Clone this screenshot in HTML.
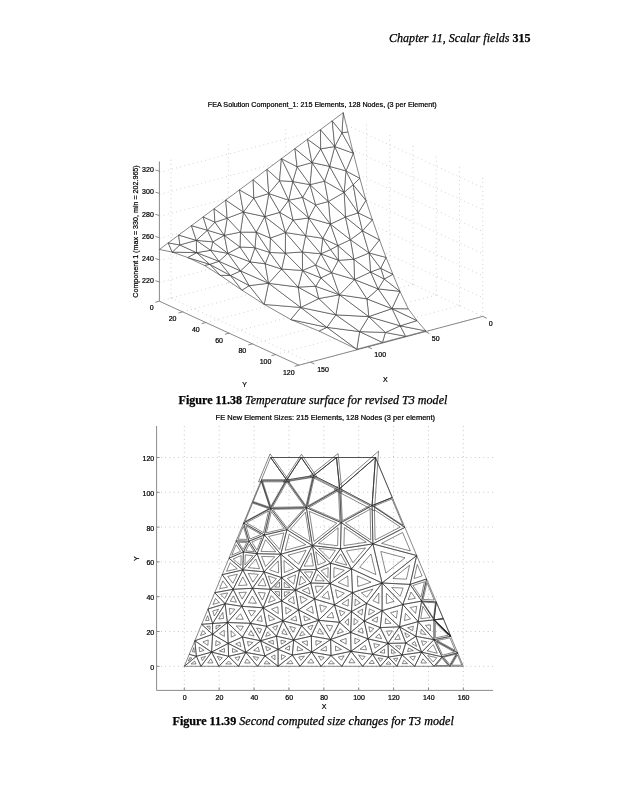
<!DOCTYPE html>
<html><head><meta charset="utf-8"><style>
html,body{margin:0;padding:0;background:#fff;}
body{width:617px;height:800px;overflow:hidden;position:relative;}
svg{position:absolute;left:0;top:0;}
.t7{font-family:'Liberation Sans',Arial,sans-serif;font-size:7px;fill:#000;stroke:#000;stroke-width:0.22px;}
.ser{font-family:'Liberation Serif','Times New Roman',serif;fill:#000;stroke:#000;stroke-width:0.25px;}
</style></head><body>
<svg width="617" height="800" viewBox="0 0 617 800">
<text x="389" y="41.9" class="ser" font-size="12.2" font-style="italic" textLength="141.6" lengthAdjust="spacingAndGlyphs">Chapter 11, Scalar fields <tspan font-weight="bold" font-style="normal">315</tspan></text>
<text x="207.8" y="106.6" class="t7" font-size="7.4" textLength="228.9" lengthAdjust="spacingAndGlyphs">FEA Solution Component_1: 215 Elements, 128 Nodes, (3 per Element)</text>
<text x="178.6" y="403.6" class="ser" font-size="11.8" textLength="268.8" lengthAdjust="spacingAndGlyphs"><tspan font-weight="bold">Figure 11.38</tspan> <tspan font-style="italic">Temperature surface for revised T3 model</tspan></text>
<text x="215.6" y="419.7" class="t7" font-size="7.3" textLength="219.5" lengthAdjust="spacingAndGlyphs">FE New Element Sizes: 215 Elements, 128 Nodes (3 per element)</text>
<text x="172.5" y="724.9" class="ser" font-size="11.6" textLength="281.3" lengthAdjust="spacingAndGlyphs"><tspan font-weight="bold">Figure 11.39</tspan> <tspan font-style="italic">Second computed size changes for T3 model</tspan></text>
<line x1="184.3" y1="426" x2="184.3" y2="690.4" stroke="#a0a0a0" stroke-width="0.65" stroke-dasharray="0.9 3.4" fill="none"/>
<line x1="219.18" y1="426" x2="219.18" y2="690.4" stroke="#a0a0a0" stroke-width="0.65" stroke-dasharray="0.9 3.4" fill="none"/>
<line x1="254.06" y1="426" x2="254.06" y2="690.4" stroke="#a0a0a0" stroke-width="0.65" stroke-dasharray="0.9 3.4" fill="none"/>
<line x1="288.94" y1="426" x2="288.94" y2="690.4" stroke="#a0a0a0" stroke-width="0.65" stroke-dasharray="0.9 3.4" fill="none"/>
<line x1="323.82" y1="426" x2="323.82" y2="690.4" stroke="#a0a0a0" stroke-width="0.65" stroke-dasharray="0.9 3.4" fill="none"/>
<line x1="358.7" y1="426" x2="358.7" y2="690.4" stroke="#a0a0a0" stroke-width="0.65" stroke-dasharray="0.9 3.4" fill="none"/>
<line x1="393.58" y1="426" x2="393.58" y2="690.4" stroke="#a0a0a0" stroke-width="0.65" stroke-dasharray="0.9 3.4" fill="none"/>
<line x1="428.46" y1="426" x2="428.46" y2="690.4" stroke="#a0a0a0" stroke-width="0.65" stroke-dasharray="0.9 3.4" fill="none"/>
<line x1="463.34" y1="426" x2="463.34" y2="690.4" stroke="#a0a0a0" stroke-width="0.65" stroke-dasharray="0.9 3.4" fill="none"/>
<line x1="156.6" y1="666.3" x2="493" y2="666.3" stroke="#a0a0a0" stroke-width="0.65" stroke-dasharray="0.9 3.4" fill="none"/>
<line x1="156.6" y1="631.5" x2="493" y2="631.5" stroke="#a0a0a0" stroke-width="0.65" stroke-dasharray="0.9 3.4" fill="none"/>
<line x1="156.6" y1="596.7" x2="493" y2="596.7" stroke="#a0a0a0" stroke-width="0.65" stroke-dasharray="0.9 3.4" fill="none"/>
<line x1="156.6" y1="561.9" x2="493" y2="561.9" stroke="#a0a0a0" stroke-width="0.65" stroke-dasharray="0.9 3.4" fill="none"/>
<line x1="156.6" y1="527.1" x2="493" y2="527.1" stroke="#a0a0a0" stroke-width="0.65" stroke-dasharray="0.9 3.4" fill="none"/>
<line x1="156.6" y1="492.3" x2="493" y2="492.3" stroke="#a0a0a0" stroke-width="0.65" stroke-dasharray="0.9 3.4" fill="none"/>
<line x1="156.6" y1="457.5" x2="493" y2="457.5" stroke="#a0a0a0" stroke-width="0.65" stroke-dasharray="0.9 3.4" fill="none"/>
<path d="M156.6 426 V690.4 H493" stroke="#8a8a8a" stroke-width="1" fill="none"/>
<line x1="184.3" y1="690.4" x2="184.3" y2="687.4" stroke="#8a8a8a" stroke-width="1" fill="none"/>
<text x="184.6" y="700.3" text-anchor="middle" class="t7">0</text>
<line x1="219.18" y1="690.4" x2="219.18" y2="687.4" stroke="#8a8a8a" stroke-width="1" fill="none"/>
<text x="219.48" y="700.3" text-anchor="middle" class="t7">20</text>
<line x1="254.06" y1="690.4" x2="254.06" y2="687.4" stroke="#8a8a8a" stroke-width="1" fill="none"/>
<text x="254.36" y="700.3" text-anchor="middle" class="t7">40</text>
<line x1="288.94" y1="690.4" x2="288.94" y2="687.4" stroke="#8a8a8a" stroke-width="1" fill="none"/>
<text x="289.24" y="700.3" text-anchor="middle" class="t7">60</text>
<line x1="323.82" y1="690.4" x2="323.82" y2="687.4" stroke="#8a8a8a" stroke-width="1" fill="none"/>
<text x="324.12" y="700.3" text-anchor="middle" class="t7">80</text>
<line x1="358.7" y1="690.4" x2="358.7" y2="687.4" stroke="#8a8a8a" stroke-width="1" fill="none"/>
<text x="359" y="700.3" text-anchor="middle" class="t7">100</text>
<line x1="393.58" y1="690.4" x2="393.58" y2="687.4" stroke="#8a8a8a" stroke-width="1" fill="none"/>
<text x="393.88" y="700.3" text-anchor="middle" class="t7">120</text>
<line x1="428.46" y1="690.4" x2="428.46" y2="687.4" stroke="#8a8a8a" stroke-width="1" fill="none"/>
<text x="428.76" y="700.3" text-anchor="middle" class="t7">140</text>
<line x1="463.34" y1="690.4" x2="463.34" y2="687.4" stroke="#8a8a8a" stroke-width="1" fill="none"/>
<text x="463.64" y="700.3" text-anchor="middle" class="t7">160</text>
<line x1="156.6" y1="666.3" x2="159.6" y2="666.3" stroke="#8a8a8a" stroke-width="1" fill="none"/>
<text x="154.2" y="669.7" text-anchor="end" class="t7">0</text>
<line x1="156.6" y1="631.5" x2="159.6" y2="631.5" stroke="#8a8a8a" stroke-width="1" fill="none"/>
<text x="154.2" y="634.9" text-anchor="end" class="t7">20</text>
<line x1="156.6" y1="596.7" x2="159.6" y2="596.7" stroke="#8a8a8a" stroke-width="1" fill="none"/>
<text x="154.2" y="600.1" text-anchor="end" class="t7">40</text>
<line x1="156.6" y1="561.9" x2="159.6" y2="561.9" stroke="#8a8a8a" stroke-width="1" fill="none"/>
<text x="154.2" y="565.3" text-anchor="end" class="t7">60</text>
<line x1="156.6" y1="527.1" x2="159.6" y2="527.1" stroke="#8a8a8a" stroke-width="1" fill="none"/>
<text x="154.2" y="530.5" text-anchor="end" class="t7">80</text>
<line x1="156.6" y1="492.3" x2="159.6" y2="492.3" stroke="#8a8a8a" stroke-width="1" fill="none"/>
<text x="154.2" y="495.7" text-anchor="end" class="t7">100</text>
<line x1="156.6" y1="457.5" x2="159.6" y2="457.5" stroke="#8a8a8a" stroke-width="1" fill="none"/>
<text x="154.2" y="460.9" text-anchor="end" class="t7">120</text>
<text x="324.1" y="709.1" text-anchor="middle" class="t7">X</text>
<text transform="translate(138.6 558.7) rotate(-90)" text-anchor="middle" class="t7">Y</text>
<path d="M380.3 666.3 L396.9 666.3 L388.4 657.1Z M245.8 652.4 L238.5 666.3 L257.6 666.3Z M278.1 649.4 L292.3 655.1 L293.7 640.1Z M292.3 655.1 L311.7 652.1 L293.7 640.1Z M311.7 652.1 L300 666.3 L321 666.3Z M311.7 652.1 L292.3 655.1 L300 666.3Z M299.6 569.9 L312.4 545.6 L280.8 554.2Z M312.4 545.6 L299.6 569.9 L316.5 569.4Z M318.6 620.3 L334.5 604.9 L314.6 599Z M330.6 563.2 L351.5 568.9 L340.5 548.8Z M312.4 545.6 L330.6 563.2 L340.5 548.8Z M330.6 563.2 L312.4 545.6 L316.5 569.4Z M257 553.7 L264.1 571.8 L280.8 554.2Z M243.4 552 L257 553.7 L249 541.2Z M292.3 655.1 L278.1 666.3 L300 666.3Z M278.1 666.3 L292.3 655.1 L278.1 649.4Z M341.8 666.3 L331 655.5 L321 666.3Z M331 655.5 L311.7 652.1 L321 666.3Z M311.7 652.1 L331 655.5 L330.6 639.5Z M301.6 625.7 L282.9 620.8 L293.7 640.1Z M311.3 636.1 L311.7 652.1 L330.6 639.5Z M318.6 620.3 L311.3 636.1 L330.6 639.5Z M301.6 625.7 L311.3 636.1 L318.6 620.3Z M311.7 652.1 L311.3 636.1 L293.7 640.1Z M311.3 636.1 L301.6 625.7 L293.7 640.1Z M434 639.7 L457.66 652.8 L450.71 636.3Z M449.9 666.3 L442 656.8 L434 666.3Z M457.66 652.8 L449.9 666.3 L463.34 666.3Z M449.9 666.3 L457.66 652.8 L442 656.8Z M243.55 523 L236.15 540.9 L249 541.2Z M243.4 552 L236.15 540.9 L228.99 558.2Z M236.15 540.9 L243.4 552 L249 541.2Z M312.4 545.6 L286.9 529.7 L280.8 554.2Z M281.6 577.6 L299.6 569.9 L280.8 554.2Z M264.1 571.8 L281.6 577.6 L280.8 554.2Z M295.5 590.1 L281.6 577.6 L281.6 589.3Z M281.6 577.6 L295.5 590.1 L299.6 569.9Z M339.5 622.3 L334.5 604.9 L318.6 620.3Z M339.5 622.3 L330.6 639.5 L350.7 632.4Z M339.5 622.3 L318.6 620.3 L330.6 639.5Z M330.6 563.2 L330.1 583.5 L351.5 568.9Z M330.1 583.5 L330.6 563.2 L316.5 569.4Z M334.5 604.9 L330.1 583.5 L314.6 599Z M351.5 568.9 L372.9 543.9 L340.5 548.8Z M375.44 457.5 L372.1 505.6 L392.28 497.5Z M339.7 488.6 L372.1 505.6 L375.44 457.5Z M336.5 457.5 L339.7 488.6 L375.44 457.5Z M339.7 488.6 L336.5 457.5 L313.7 475.6Z M336.5 457.5 L301.3 457.5 L313.7 475.6Z M266.7 626.3 L276.5 636.2 L282.9 620.8Z M276.5 636.2 L278.1 649.4 L293.7 640.1Z M282.9 620.8 L276.5 636.2 L293.7 640.1Z M278.1 649.4 L276.5 636.2 L260.6 640.8Z M276.5 636.2 L266.7 626.3 L260.6 640.8Z M242.8 569.9 L243.4 552 L228.99 558.2Z M222.17 574.7 L242.8 569.9 L228.99 558.2Z M242.8 569.9 L222.17 574.7 L233.1 589.3Z M257 553.7 L242.8 569.9 L264.1 571.8Z M242.8 569.9 L257 553.7 L243.4 552Z M263.1 607.8 L266.7 626.3 L282.9 620.8Z M212.6 634.3 L194.84 640.8 L211.6 652.1Z M228.2 643.4 L212.6 634.3 L211.6 652.1Z M227.4 622.5 L212.6 634.3 L228.2 643.4Z M228.6 656.3 L218.9 666.3 L238.5 666.3Z M245.8 652.4 L228.6 656.3 L238.5 666.3Z M228.2 643.4 L228.6 656.3 L245.8 652.4Z M218.9 666.3 L228.6 656.3 L211.6 652.1Z M228.6 656.3 L228.2 643.4 L211.6 652.1Z M278.1 666.3 L264.9 655.9 L257.6 666.3Z M264.9 655.9 L278.1 666.3 L278.1 649.4Z M264.9 655.9 L278.1 649.4 L260.6 640.8Z M245.8 652.4 L264.9 655.9 L260.6 640.8Z M264.9 655.9 L245.8 652.4 L257.6 666.3Z M442 656.8 L421.6 652.2 L434 666.3Z M270.6 508.4 L261.33 480 L252.23 502Z M243.55 523 L270.6 508.4 L252.23 502Z M299.6 569.9 L310.7 583 L316.5 569.4Z M295.5 590.1 L310.7 583 L299.6 569.9Z M310.7 583 L295.5 590.1 L314.6 599Z M330.1 583.5 L310.7 583 L314.6 599Z M310.7 583 L330.1 583.5 L316.5 569.4Z M301.6 625.7 L298.6 609.9 L282.9 620.8Z M295.5 590.1 L298.6 609.9 L314.6 599Z M298.6 609.9 L318.6 620.3 L314.6 599Z M298.6 609.9 L301.6 625.7 L318.6 620.3Z M372.6 654.3 L362.6 666.3 L380.3 666.3Z M372.6 654.3 L380.3 666.3 L388.4 657.1Z M362.6 666.3 L351 651.3 L341.8 666.3Z M351 651.3 L331 655.5 L341.8 666.3Z M351 651.3 L368.1 638.9 L350.7 632.4Z M330.6 639.5 L351 651.3 L350.7 632.4Z M331 655.5 L351 651.3 L330.6 639.5Z M351 651.3 L372.6 654.3 L368.1 638.9Z M372.6 654.3 L351 651.3 L362.6 666.3Z M404.87 527.4 L372.9 543.9 L416.7 555.5Z M372.1 505.6 L404.87 527.4 L392.28 497.5Z M404.87 527.4 L372.1 505.6 L372.9 543.9Z M372.9 543.9 L341.2 522.6 L340.5 548.8Z M372.1 505.6 L341.2 522.6 L372.9 543.9Z M341.2 522.6 L372.1 505.6 L339.7 488.6Z M341.2 522.6 L312.4 545.6 L340.5 548.8Z M222.17 574.7 L214.73 592.7 L233.1 589.3Z M242.8 569.9 L252.5 588.3 L264.1 571.8Z M252.5 588.3 L242.8 569.9 L233.1 589.3Z M281.6 601 L263.1 607.8 L282.9 620.8Z M298.6 609.9 L281.6 601 L282.9 620.8Z M281.6 601 L295.5 590.1 L281.6 589.3Z M281.6 601 L298.6 609.9 L295.5 590.1Z M201 666.3 L218.9 666.3 L211.6 652.1Z M212.6 634.3 L201.66 624.3 L194.84 640.8Z M242.4 637 L227.4 622.5 L228.2 643.4Z M242.4 637 L245.8 652.4 L260.6 640.8Z M242.4 637 L228.2 643.4 L245.8 652.4Z M241.8 606.3 L252.5 588.3 L233.1 589.3Z M252.5 588.3 L241.8 606.3 L263.1 607.8Z M421.6 652.2 L414.7 666.3 L434 666.3Z M396.9 666.3 L402.1 654.9 L388.4 657.1Z M414.7 666.3 L402.1 654.9 L396.9 666.3Z M402.1 654.9 L414.7 666.3 L421.6 652.2Z M421.6 652.2 L434 639.7 L415.9 636.3Z M434 639.7 L457.66 652.8 L442 656.8Z M434 639.7 L421.6 652.2 L442 656.8Z M434 619.9 L450.71 636.3 L443.3 618.7Z M434 619.9 L450.71 636.3 L434 639.7Z M418.2 621.6 L399.5 626.8 L415.9 636.3Z M434 639.7 L418.2 621.6 L415.9 636.3Z M418.2 621.6 L434 639.7 L434 619.9Z M270.6 508.4 L286.7 480 L261.33 480Z M301.3 457.5 L286.7 480 L313.7 475.6Z M261.33 480 L286.7 480 L270.63 457.5Z M286.7 480 L301.3 457.5 L270.63 457.5Z M264.4 535 L243.55 523 L249 541.2Z M264.4 535 L270.6 508.4 L243.55 523Z M270.6 508.4 L264.4 535 L286.9 529.7Z M257 553.7 L264.4 535 L249 541.2Z M264.4 535 L257 553.7 L280.8 554.2Z M286.9 529.7 L264.4 535 L280.8 554.2Z M270.4 589.3 L252.5 588.3 L263.1 607.8Z M270.4 589.3 L281.6 601 L281.6 589.3Z M281.6 601 L270.4 589.3 L263.1 607.8Z M252.5 588.3 L270.4 589.3 L264.1 571.8Z M281.6 577.6 L270.4 589.3 L281.6 589.3Z M270.4 589.3 L281.6 577.6 L264.1 571.8Z M196.4 656.3 L189.26 654.3 L184.3 666.3Z M201 666.3 L196.4 656.3 L184.3 666.3Z M196.4 656.3 L201 666.3 L211.6 652.1Z M189.26 654.3 L196.4 656.3 L194.84 640.8Z M194.84 640.8 L196.4 656.3 L211.6 652.1Z M201.66 624.3 L212.6 623.5 L207.99 609Z M227.4 622.5 L212.6 623.5 L212.6 634.3Z M212.6 623.5 L201.66 624.3 L212.6 634.3Z M214.73 592.7 L225.1 603.7 L233.1 589.3Z M225.1 603.7 L241.8 606.3 L233.1 589.3Z M241.8 606.3 L225.1 603.7 L227.4 622.5Z M225.1 603.7 L214.73 592.7 L207.99 609Z M212.6 623.5 L225.1 603.7 L207.99 609Z M225.1 603.7 L212.6 623.5 L227.4 622.5Z M242.4 637 L250.5 623.3 L227.4 622.5Z M250.5 623.3 L241.8 606.3 L227.4 622.5Z M266.7 626.3 L250.5 623.3 L260.6 640.8Z M250.5 623.3 L242.4 637 L260.6 640.8Z M263.1 607.8 L250.5 623.3 L266.7 626.3Z M241.8 606.3 L250.5 623.3 L263.1 607.8Z M402.1 654.9 L388 643.4 L388.4 657.1Z M380.3 627.6 L388 643.4 L399.5 626.8Z M388 643.4 L380.3 627.6 L368.1 638.9Z M388 643.4 L372.6 654.3 L388.4 657.1Z M372.6 654.3 L388 643.4 L368.1 638.9Z M368.1 638.9 L364.2 621.1 L350.7 632.4Z M380.3 627.6 L364.2 621.1 L368.1 638.9Z M418.2 621.6 L402.8 604.5 L399.5 626.8Z M410.1 584.4 L426.59 579 L416.7 555.5Z M306.4 507.7 L270.6 508.4 L286.9 529.7Z M306.4 507.7 L286.7 480 L270.6 508.4Z M286.7 480 L306.4 507.7 L313.7 475.6Z M306.4 507.7 L339.7 488.6 L313.7 475.6Z M306.4 507.7 L341.2 522.6 L339.7 488.6Z M306.4 507.7 L286.9 529.7 L312.4 545.6Z M341.2 522.6 L306.4 507.7 L312.4 545.6Z M388 643.4 L405.8 643 L399.5 626.8Z M405.8 643 L388 643.4 L402.1 654.9Z M399.5 626.8 L405.8 643 L415.9 636.3Z M405.8 643 L421.6 652.2 L415.9 636.3Z M405.8 643 L402.1 654.9 L421.6 652.2Z M339.5 622.3 L351.5 611.5 L334.5 604.9Z M351.5 611.5 L339.5 622.3 L350.7 632.4Z M364.2 621.1 L351.5 611.5 L350.7 632.4Z M382.1 610.7 L364.2 621.1 L380.3 627.6Z M382.1 610.7 L380.3 627.6 L399.5 626.8Z M402.8 604.5 L382.1 610.7 L399.5 626.8Z M436.23 601.9 L434 619.9 L443.3 618.7Z M366.5 603.4 L351.5 611.5 L364.2 621.1Z M382.1 610.7 L366.5 603.4 L364.2 621.1Z M421.6 601.1 L436.23 601.9 L426.59 579Z M421.6 601.1 L426.59 579 L410.1 584.4Z M402.8 604.5 L421.6 601.1 L410.1 584.4Z M421.6 601.1 L402.8 604.5 L418.2 621.6Z M421.6 601.1 L418.2 621.6 L434 619.9Z M436.23 601.9 L421.6 601.1 L434 619.9Z M382.1 583 L366.5 603.4 L382.1 610.7Z M382.1 583 L402.8 604.5 L410.1 584.4Z M382.1 583 L382.1 610.7 L402.8 604.5Z M382.1 583 L372.9 543.9 L351.5 568.9Z M372.9 543.9 L382.1 583 L416.7 555.5Z M382.1 583 L410.1 584.4 L416.7 555.5Z M351.5 611.5 L352.5 592.7 L334.5 604.9Z M366.5 603.4 L352.5 592.7 L351.5 611.5Z M352.5 592.7 L330.1 583.5 L334.5 604.9Z M330.1 583.5 L352.5 592.7 L351.5 568.9Z M352.5 592.7 L382.1 583 L351.5 568.9Z M382.1 583 L352.5 592.7 L366.5 603.4Z" stroke="#2a2a2a" stroke-width="0.56" fill="none" stroke-linejoin="round"/>
<line x1="434" y1="619.9" x2="450.71" y2="636.3" stroke="#111" stroke-width="1.2"/>
<path d="M386.13 664.13 L390.97 664.13 L388.49 661.45Z M246.86 658.96 L244.73 663.02 L250.31 663.02Z M285.07 648.56 L289.31 650.26 L289.72 645.78Z M297.17 650.89 L302.95 649.99 L297.58 646.42Z M311.13 658.8 L307.72 662.95 L313.85 662.95Z M304.38 656.15 L298.68 657.03 L300.94 660.32Z M298.75 564.24 L306.11 550.26 L287.94 555.21Z M311.09 552.85 L304.07 566.16 L313.34 565.89Z M321.18 612.34 L326.74 606.96 L319.78 604.9Z M335.17 561.91 L346.77 565.08 L340.66 553.91Z M318.62 548.39 L329.48 558.9 L335.39 550.3Z M325.86 561.53 L315.67 551.67 L317.97 565Z M261.56 556.44 L265.52 566.53 L274.82 556.72Z M245.86 550.84 L254.24 551.88 L249.31 544.18Z M290.77 660.39 L286.62 663.66 L293.01 663.66Z M281.44 659.69 L285.62 656.39 L281.44 654.72Z M334.34 663.75 L331.19 660.6 L328.27 663.75Z M324.1 657.24 L318.43 656.24 L321.16 660.42Z M320.64 649.95 L326.39 650.96 L326.27 646.19Z M295.46 627.89 L289.71 626.39 L293.03 632.32Z M315.89 640.62 L316.01 645.44 L321.7 641.64Z M319.69 628.4 L317.46 633.23 L323.36 634.27Z M307.76 626.85 L310.75 630.06 L312.99 625.19Z M307.41 645.57 L307.29 640.76 L302 641.96Z M304.97 634.62 L302.02 631.45 L299.61 635.84Z M437.23 640.48 L455.21 650.43 L449.93 637.89Z M448.15 665.6 L441.99 658.19 L435.75 665.6Z M457.49 654.96 L451.6 665.22 L461.81 665.22Z M449.89 664.61 L455.94 654.08 L443.73 657.2Z M243.36 526.42 L238.06 539.23 L247.27 539.45Z M240.57 551.36 L236.16 544.61 L231.81 555.13Z M238.57 542.27 L243.2 549.36 L246.78 542.46Z M305.75 544.75 L289.16 534.4 L285.19 550.35Z M284.36 572.6 L293.69 568.61 L283.95 560.48Z M269.63 569.89 L278.64 572.88 L278.23 560.83Z M290.22 587.58 L284.24 582.19 L284.24 587.23Z M287.34 578.46 L293.74 584.22 L295.63 574.92Z M333.7 617.96 L332.06 612.24 L326.83 617.3Z M340.03 628.61 L337.31 633.88 L343.46 631.71Z M332.63 625.81 L326.19 625.19 L329.88 631.1Z M334.04 567.58 L333.79 577.62 L344.37 570.4Z M327.89 577.69 L328.13 567.67 L321.18 570.73Z M329.51 599.3 L327.82 591.08 L321.87 597.03Z M352.92 562.73 L365.54 547.99 L346.43 550.88Z M375.44 457.5 L372.1 505.6 L392.28 497.5Z M334.25 489.73 L374.42 510.81 L378.57 451.16Z M336.5 457.5 L339.7 488.6 L375.44 457.5Z M342.04 492.13 L338.07 453.56 L309.8 476.01Z M336.5 457.5 L301.3 457.5 L313.7 475.6Z M272.7 627.32 L275.72 630.36 L277.68 625.62Z M280.88 640.18 L281.36 644.16 L286.06 641.36Z M283.92 628.83 L281.96 633.54 L287.22 634.73Z M273.65 644.32 L273.17 640.35 L268.38 641.73Z M270.54 634.97 L267.56 631.96 L265.7 636.37Z M240.85 565.53 L241.18 555.56 L233.16 559.01Z M226.6 571.26 L237.25 568.79 L230.12 562.75Z M237.4 574.21 L227.79 576.44 L232.88 583.25Z M255.89 559.08 L248.37 567.66 L259.64 568.66Z M244.95 564.95 L252.97 555.8 L245.29 554.84Z M268.39 614.92 L269.55 620.88 L274.76 619.11Z M208.23 639.96 L202.88 641.92 L207.93 645.32Z M220.69 643.31 L216 640.57 L215.7 645.92Z M224.16 630.07 L219.64 633.67 L224.4 636.45Z M228.65 661.02 L225.82 663.94 L231.53 663.94Z M240.03 656.59 L234.98 657.74 L237.89 660.67Z M232.42 648.53 L232.54 652.36 L237.65 651.21Z M219.47 660.6 L222.31 657.67 L217.32 656.43Z M224.52 652.29 L224.4 648.46 L219.47 651.05Z M270.14 663.84 L266.29 660.81 L264.16 663.84Z M271.11 656.82 L274.99 659.88 L274.99 654.91Z M266.98 650.85 L270.92 648.91 L265.7 646.35Z M253.74 650.5 L259.42 651.55 L258.14 647.05Z M258.68 657.52 L253.07 656.5 L256.54 660.58Z M436.79 657.7 L427.61 655.63 L433.19 661.97Z M269.64 507.19 L261.33 481.75 L253.18 501.46Z M244.95 521.6 L268.81 508.72 L252.61 503.08Z M304.42 572.07 L309.79 578.41 L312.59 571.83Z M299.02 585.11 L305.9 581.9 L300.88 575.98Z M308.47 587.56 L302.27 590.46 L310.06 594.08Z M323.33 586.41 L315.22 586.2 L316.85 592.89Z M315.21 580.66 L324.19 580.89 L317.9 574.36Z M296.69 621.01 L295.72 615.95 L290.69 619.44Z M300.15 596.11 L301.3 603.47 L307.25 599.42Z M306.46 609.79 L313.36 613.38 L311.98 606.03Z M303.8 615.83 L304.77 620.9 L310.23 619.17Z M372.06 659.97 L369.14 663.47 L374.3 663.47Z M378.14 657.79 L380.39 661.31 L382.77 658.61Z M354.96 662.76 L351.57 658.38 L348.88 662.76Z M344.13 655.82 L338.25 657.05 L341.42 660.23Z M354.91 644.01 L360.07 640.27 L354.82 638.31Z M340.03 640.59 L346.18 644.15 L346.09 638.45Z M335.59 650.77 L341.55 649.52 L335.47 646Z M360.05 649.1 L366.5 650 L365.15 645.4Z M365.16 656.42 L358.81 655.54 L362.22 659.95Z M402.57 532.48 L381.54 543.34 L410.36 550.97Z M374.17 506.13 L403.1 525.38 L391.98 498.98Z M400.35 527.03 L374.44 509.8 L375.08 540.07Z M366.25 542.2 L344.42 527.53 L343.93 545.57Z M370.11 509.25 L345.33 522.88 L370.76 539.97Z M342.3 520.68 L369.72 505.6 L340.97 490.52Z M338.1 527.78 L318.39 543.52 L337.62 545.71Z M222.83 580.88 L219.62 588.64 L227.54 587.18Z M248.25 573.47 L252.83 582.16 L258.31 574.37Z M247.12 585.08 L242.8 576.89 L238.48 585.53Z M277.84 606.81 L271.47 609.15 L278.29 613.64Z M291.44 610.34 L285.61 607.29 L286.05 614.07Z M284.4 596.44 L289.89 592.14 L284.4 591.82Z M288.09 600.58 L294.38 603.88 L293.23 596.54Z M207.72 662.95 L212.95 662.95 L210.82 658.8Z M205.96 633.49 L202.62 630.44 L200.54 635.47Z M235.63 635.12 L231.06 630.7 L231.31 637.07Z M247.44 641.48 L248.46 646.1 L252.91 642.62Z M239.88 642.09 L235.62 644.01 L240.9 646.71Z M242.21 599.18 L246.37 592.17 L238.82 592.56Z M252.48 596.19 L248.53 602.83 L256.39 603.38Z M422.9 658.85 L420.88 662.97 L426.52 662.97Z M396.12 661.45 L397.65 658.1 L393.63 658.75Z M407.52 663.61 L403.85 660.28 L402.33 663.61Z M409.66 656.95 L413.36 660.3 L415.39 656.15Z M423.16 645.58 L426.89 641.82 L421.45 640.8Z M436.53 642.12 L454.51 652.07 L442.61 655.11Z M433.27 644.63 L427.07 650.88 L437.27 653.18Z M434 619.9 L450.71 636.3 L443.3 618.7Z M435.34 622.8 L448.04 635.26 L435.34 637.84Z M413.35 626.19 L407.6 627.79 L412.65 630.71Z M426.15 634.72 L421.33 629.19 L420.62 633.68Z M425.49 625.38 L430.36 630.96 L430.36 624.86Z M270.82 506.54 L285.34 480.93 L262.46 480.93Z M301.48 454.25 L283.37 482.15 L316.85 476.7Z M258.55 481.8 L290.02 481.8 L270.09 453.9Z M286.7 480 L301.3 457.5 L270.63 457.5Z M261.16 534.48 L245.9 525.7 L249.89 539.02Z M263.5 532.63 L268.56 510.93 L246.49 522.84Z M271.27 511.6 L266.32 532.87 L284.31 528.63Z M256.93 550.06 L261.74 537.91 L251.73 541.94Z M265.53 539.76 L260.92 551.41 L275.75 551.73Z M283.84 532.89 L268.56 536.49 L279.7 549.53Z M265.25 592.87 L258.32 592.49 L262.43 600.04Z M274.91 591.66 L279.35 596.29 L279.35 591.66Z M275.39 599.98 L271.22 595.61 L268.49 602.51Z M257.98 585.42 L265.9 585.86 L263.11 578.12Z M279.48 582.03 L274.64 587.08 L279.48 587.08Z M271.28 584.03 L276.42 578.66 L268.39 576Z M191.87 658.18 L189.77 657.6 L188.32 661.12Z M195.97 663.94 L194.63 661.02 L191.1 663.94Z M201.06 657.67 L202.41 660.6 L205.53 656.43Z M192.24 651.61 L194.36 652.2 L193.9 647.59Z M199.13 647.07 L199.59 651.69 L204.12 650.44Z M205.58 620.65 L209.08 620.4 L207.6 615.75Z M220.57 625.45 L216.01 625.76 L216.01 629.09Z M210.08 626.18 L206.71 626.42 L210.08 629.5Z M220.6 594.25 L224.62 598.51 L227.71 592.94Z M230.27 601.23 L236.48 602.2 L233.25 595.88Z M234.98 609.28 L229.27 608.39 L230.05 614.82Z M219.3 602.5 L215.5 598.47 L213.03 604.44Z M214.34 615.94 L218.57 609.23 L212.78 611.03Z M222.81 612.36 L218.73 618.83 L223.56 618.51Z M240.81 630.49 L243.3 626.28 L236.19 626.03Z M243.34 619.29 L240.52 613.77 L235.84 619.03Z M261.55 628.96 L256.58 628.04 L259.68 633.4Z M250.96 630.53 L248.49 634.71 L254.04 635.87Z M261.06 615.51 L257.03 620.47 L262.21 621.43Z M248.42 610.38 L251.36 616.13 L255.62 610.89Z M395.58 652.72 L391.4 649.31 L391.52 653.37Z M386.53 631.07 L388.88 635.9 L392.39 630.83Z M381.59 638.69 L379.26 633.89 L375.55 637.32Z M384.48 649.17 L379.91 652.4 L384.6 653.23Z M375.14 648.16 L379.76 644.89 L373.8 643.55Z M363.17 633.28 L361.98 627.83 L357.84 631.29Z M373.76 628.71 L368.82 626.71 L370.02 632.18Z M410.51 618.92 L405.53 613.38 L404.46 620.6Z M414.03 578.56 L422.1 575.92 L417.26 564.42Z M303.91 508.72 L272.94 509.33 L287.04 527.75Z M304.44 506.74 L286.83 481.98 L272.44 507.37Z M288.22 480.76 L306 505.76 L312.59 476.78Z M307.74 506.01 L337.74 488.8 L314.32 477.09Z M308.97 507.54 L339.83 520.75 L338.5 490.61Z M305.39 512.18 L290.27 529.24 L310.04 541.57Z M336.81 523.16 L309.22 511.34 L313.97 541.4Z M394.81 639.45 L400.2 639.33 L398.29 634.42Z M400.77 645.87 L395.46 645.99 L399.67 649.43Z M404.76 632.76 L406.68 637.69 L409.75 635.65Z M411.84 643.58 L416.59 646.35 L414.87 641.57Z M408.63 647.94 L407.53 651.48 L413.33 650.68Z M341.05 616.06 L345.09 612.43 L339.37 610.21Z M348.56 618.77 L344.82 622.14 L348.31 625.29Z M358.2 621.49 L354.22 618.48 L353.97 625.03Z M377.62 616.91 L371.93 620.21 L377.05 622.28Z M385.67 618.26 L385.11 623.55 L391.12 623.3Z M397.47 610.83 L390.56 612.9 L396.37 618.27Z M436.23 601.9 L434 619.9 L443.3 618.7Z M362.69 609.08 L357.6 611.83 L361.91 615.08Z M374.73 611.38 L369.43 608.9 L368.65 614.92Z M423.17 599.4 L434.29 600 L426.96 582.6Z M420.95 597.22 L424.44 581.75 L412.9 585.53Z M408.19 599.64 L415.34 598.35 L410.97 592Z M416.77 606.3 L410.25 607.48 L415.59 613.41Z M422.8 606.34 L420.76 618.64 L430.24 617.62Z M435.39 602.76 L422.95 602.08 L433.49 618.06Z M378.84 593.04 L373.01 600.67 L378.84 603.39Z M391.71 587.52 L400.16 596.29 L403.13 588.09Z M386.43 593.29 L386.43 603.61 L394.14 601.3Z M375.85 574.64 L370.98 553.97 L359.67 567.19Z M380.8 551.46 L385.89 573.07 L405 557.87Z M392.89 578.5 L406.41 579.18 L409.6 565.22Z M348.1 606.11 L348.47 599.28 L341.93 603.71Z M360.36 602.85 L355.25 598.95 L354.89 605.8Z M344.34 593.31 L335.52 589.68 L337.25 598.11Z M338.15 582.51 L348.2 586.64 L347.75 575.95Z M357.75 586.56 L371.06 582.19 L357.3 575.85Z M373.01 589.05 L361.27 592.9 L366.82 597.15Z" stroke="#2a2a2a" stroke-width="0.56" fill="none" stroke-linejoin="round"/>
<line x1="343.24" y1="252.4" x2="482.74" y2="316.4" stroke="#ababab" stroke-width="0.6" stroke-dasharray="0.9 3.4" fill="none"/>
<line x1="285.79" y1="267.65" x2="425.29" y2="331.65" stroke="#ababab" stroke-width="0.6" stroke-dasharray="0.9 3.4" fill="none"/>
<line x1="228.34" y1="282.9" x2="367.84" y2="346.9" stroke="#ababab" stroke-width="0.6" stroke-dasharray="0.9 3.4" fill="none"/>
<line x1="170.89" y1="298.15" x2="310.39" y2="362.15" stroke="#ababab" stroke-width="0.6" stroke-dasharray="0.9 3.4" fill="none"/>
<line x1="343.24" y1="252.4" x2="159.4" y2="301.2" stroke="#ababab" stroke-width="0.6" stroke-dasharray="0.9 3.4" fill="none"/>
<line x1="366.49" y1="263.07" x2="182.65" y2="311.87" stroke="#ababab" stroke-width="0.6" stroke-dasharray="0.9 3.4" fill="none"/>
<line x1="389.74" y1="273.73" x2="205.9" y2="322.53" stroke="#ababab" stroke-width="0.6" stroke-dasharray="0.9 3.4" fill="none"/>
<line x1="412.99" y1="284.4" x2="229.15" y2="333.2" stroke="#ababab" stroke-width="0.6" stroke-dasharray="0.9 3.4" fill="none"/>
<line x1="436.24" y1="295.06" x2="252.4" y2="343.86" stroke="#ababab" stroke-width="0.6" stroke-dasharray="0.9 3.4" fill="none"/>
<line x1="459.49" y1="305.73" x2="275.65" y2="354.53" stroke="#ababab" stroke-width="0.6" stroke-dasharray="0.9 3.4" fill="none"/>
<line x1="482.74" y1="316.4" x2="298.9" y2="365.2" stroke="#ababab" stroke-width="0.6" stroke-dasharray="0.9 3.4" fill="none"/>
<line x1="343.24" y1="252.4" x2="343.24" y2="112.66" stroke="#ababab" stroke-width="0.6" stroke-dasharray="0.9 3.4" fill="none"/>
<line x1="366.49" y1="263.07" x2="366.49" y2="123.33" stroke="#ababab" stroke-width="0.6" stroke-dasharray="0.9 3.4" fill="none"/>
<line x1="389.74" y1="273.73" x2="389.74" y2="133.99" stroke="#ababab" stroke-width="0.6" stroke-dasharray="0.9 3.4" fill="none"/>
<line x1="412.99" y1="284.4" x2="412.99" y2="144.66" stroke="#ababab" stroke-width="0.6" stroke-dasharray="0.9 3.4" fill="none"/>
<line x1="436.24" y1="295.06" x2="436.24" y2="155.33" stroke="#ababab" stroke-width="0.6" stroke-dasharray="0.9 3.4" fill="none"/>
<line x1="459.49" y1="305.73" x2="459.49" y2="165.99" stroke="#ababab" stroke-width="0.6" stroke-dasharray="0.9 3.4" fill="none"/>
<line x1="482.74" y1="316.4" x2="482.74" y2="176.66" stroke="#ababab" stroke-width="0.6" stroke-dasharray="0.9 3.4" fill="none"/>
<line x1="343.24" y1="233.66" x2="482.74" y2="297.66" stroke="#ababab" stroke-width="0.6" stroke-dasharray="0.9 3.4" fill="none"/>
<line x1="343.24" y1="211.66" x2="482.74" y2="275.66" stroke="#ababab" stroke-width="0.6" stroke-dasharray="0.9 3.4" fill="none"/>
<line x1="343.24" y1="189.66" x2="482.74" y2="253.66" stroke="#ababab" stroke-width="0.6" stroke-dasharray="0.9 3.4" fill="none"/>
<line x1="343.24" y1="167.66" x2="482.74" y2="231.66" stroke="#ababab" stroke-width="0.6" stroke-dasharray="0.9 3.4" fill="none"/>
<line x1="343.24" y1="145.66" x2="482.74" y2="209.66" stroke="#ababab" stroke-width="0.6" stroke-dasharray="0.9 3.4" fill="none"/>
<line x1="343.24" y1="123.66" x2="482.74" y2="187.66" stroke="#ababab" stroke-width="0.6" stroke-dasharray="0.9 3.4" fill="none"/>
<line x1="343.24" y1="252.4" x2="343.24" y2="112.66" stroke="#ababab" stroke-width="0.6" stroke-dasharray="0.9 3.4" fill="none"/>
<line x1="285.79" y1="267.65" x2="285.79" y2="127.91" stroke="#ababab" stroke-width="0.6" stroke-dasharray="0.9 3.4" fill="none"/>
<line x1="228.34" y1="282.9" x2="228.34" y2="143.16" stroke="#ababab" stroke-width="0.6" stroke-dasharray="0.9 3.4" fill="none"/>
<line x1="170.89" y1="298.15" x2="170.89" y2="158.41" stroke="#ababab" stroke-width="0.6" stroke-dasharray="0.9 3.4" fill="none"/>
<line x1="343.24" y1="233.66" x2="159.4" y2="282.46" stroke="#ababab" stroke-width="0.6" stroke-dasharray="0.9 3.4" fill="none"/>
<line x1="343.24" y1="211.66" x2="159.4" y2="260.46" stroke="#ababab" stroke-width="0.6" stroke-dasharray="0.9 3.4" fill="none"/>
<line x1="343.24" y1="189.66" x2="159.4" y2="238.46" stroke="#ababab" stroke-width="0.6" stroke-dasharray="0.9 3.4" fill="none"/>
<line x1="343.24" y1="167.66" x2="159.4" y2="216.46" stroke="#ababab" stroke-width="0.6" stroke-dasharray="0.9 3.4" fill="none"/>
<line x1="343.24" y1="145.66" x2="159.4" y2="194.46" stroke="#ababab" stroke-width="0.6" stroke-dasharray="0.9 3.4" fill="none"/>
<line x1="343.24" y1="123.66" x2="159.4" y2="172.46" stroke="#ababab" stroke-width="0.6" stroke-dasharray="0.9 3.4" fill="none"/>
<line x1="159.4" y1="301.2" x2="159.4" y2="161.46" stroke="#7a7a7a" stroke-width="0.9" fill="none"/>
<line x1="159.4" y1="301.2" x2="298.9" y2="365.2" stroke="#7a7a7a" stroke-width="0.9" fill="none"/>
<line x1="298.9" y1="365.2" x2="482.74" y2="316.4" stroke="#7a7a7a" stroke-width="0.9" fill="none"/>
<line x1="159.4" y1="281.95" x2="155.4" y2="280.75" stroke="#7a7a7a" stroke-width="0.9" fill="none"/>
<text x="153.8" y="283.05" text-anchor="end" class="t7">220</text>
<line x1="159.4" y1="259.8" x2="155.4" y2="258.6" stroke="#7a7a7a" stroke-width="0.9" fill="none"/>
<text x="153.8" y="260.9" text-anchor="end" class="t7">240</text>
<line x1="159.4" y1="237.65" x2="155.4" y2="236.45" stroke="#7a7a7a" stroke-width="0.9" fill="none"/>
<text x="153.8" y="238.75" text-anchor="end" class="t7">260</text>
<line x1="159.4" y1="215.5" x2="155.4" y2="214.3" stroke="#7a7a7a" stroke-width="0.9" fill="none"/>
<text x="153.8" y="216.6" text-anchor="end" class="t7">280</text>
<line x1="159.4" y1="193.35" x2="155.4" y2="192.15" stroke="#7a7a7a" stroke-width="0.9" fill="none"/>
<text x="153.8" y="194.45" text-anchor="end" class="t7">300</text>
<line x1="159.4" y1="171.2" x2="155.4" y2="170" stroke="#7a7a7a" stroke-width="0.9" fill="none"/>
<text x="153.8" y="172.3" text-anchor="end" class="t7">320</text>
<line x1="159.4" y1="301.2" x2="155.2" y2="302.3" stroke="#7a7a7a" stroke-width="0.9" fill="none"/>
<text x="151.7" y="310.1" text-anchor="middle" class="t7">0</text>
<line x1="182.65" y1="311.87" x2="178.45" y2="312.97" stroke="#7a7a7a" stroke-width="0.9" fill="none"/>
<text x="172.55" y="321.47" text-anchor="middle" class="t7">20</text>
<line x1="205.9" y1="322.53" x2="201.7" y2="323.63" stroke="#7a7a7a" stroke-width="0.9" fill="none"/>
<text x="195.8" y="332.13" text-anchor="middle" class="t7">40</text>
<line x1="229.15" y1="333.2" x2="224.95" y2="334.3" stroke="#7a7a7a" stroke-width="0.9" fill="none"/>
<text x="219.05" y="342.8" text-anchor="middle" class="t7">60</text>
<line x1="252.4" y1="343.86" x2="248.2" y2="344.96" stroke="#7a7a7a" stroke-width="0.9" fill="none"/>
<text x="242.3" y="353.46" text-anchor="middle" class="t7">80</text>
<line x1="275.65" y1="354.53" x2="271.45" y2="355.63" stroke="#7a7a7a" stroke-width="0.9" fill="none"/>
<text x="265.55" y="364.13" text-anchor="middle" class="t7">100</text>
<line x1="298.9" y1="365.2" x2="294.7" y2="366.3" stroke="#7a7a7a" stroke-width="0.9" fill="none"/>
<text x="288.8" y="374.8" text-anchor="middle" class="t7">120</text>
<line x1="482.74" y1="316.4" x2="486.84" y2="318.3" stroke="#7a7a7a" stroke-width="0.9" fill="none"/>
<text x="490.8" y="326.3" text-anchor="middle" class="t7">0</text>
<line x1="425.29" y1="331.65" x2="429.39" y2="333.55" stroke="#7a7a7a" stroke-width="0.9" fill="none"/>
<text x="435.7" y="341" text-anchor="middle" class="t7">50</text>
<line x1="367.84" y1="346.9" x2="371.94" y2="348.8" stroke="#7a7a7a" stroke-width="0.9" fill="none"/>
<text x="380.2" y="357" text-anchor="middle" class="t7">100</text>
<line x1="310.39" y1="362.15" x2="314.49" y2="364.05" stroke="#7a7a7a" stroke-width="0.9" fill="none"/>
<text x="323" y="372.3" text-anchor="middle" class="t7">150</text>
<text x="244.7" y="386.5" text-anchor="middle" class="t7">Y</text>
<text x="385.3" y="382" text-anchor="middle" class="t7">X</text>
<text transform="translate(138.3 231.5) rotate(-90)" text-anchor="middle" class="t7" textLength="132.4" lengthAdjust="spacingAndGlyphs">Component 1 (max = 330, min = 202.965)</text>
<g fill="#fff" stroke="#2a2a2a" stroke-width="0.56" stroke-linejoin="round"><path d="M382.47 342.43 L359.58 331.57 L356.81 349.24Z"/><path d="M356.81 349.24 L326.88 327.3 L318.99 331.04Z"/><path d="M359.58 331.57 L326.88 327.3 L356.81 349.24Z"/><path d="M382.47 342.43 L405.66 336.27 L385.39 332.44Z"/><path d="M326.88 327.3 L290.72 319.5 L318.99 331.04Z"/><path d="M359.58 331.57 L382.47 342.43 L385.39 332.44Z"/><path d="M405.66 336.27 L400.24 325.81 L385.39 332.44Z"/><path d="M400.24 325.81 L405.66 336.27 L425.86 330.9Z"/><path d="M290.72 319.5 L326.88 327.3 L300.76 307.46Z"/><path d="M335.88 314.81 L326.88 327.3 L359.58 331.57Z"/><path d="M368.76 316.6 L359.58 331.57 L385.39 332.44Z"/><path d="M290.72 319.5 L300.76 307.46 L264.16 304.38Z"/><path d="M326.88 327.3 L335.88 314.81 L300.76 307.46Z"/><path d="M400.24 325.81 L368.76 316.6 L385.39 332.44Z"/><path d="M368.76 316.6 L335.88 314.81 L359.58 331.57Z"/><path d="M416.96 320.59 L400.24 325.81 L425.86 330.9Z"/><path d="M249.19 285.62 L241.94 290.17 L264.16 304.38Z"/><path d="M300.76 307.46 L268.58 283.22 L264.16 304.38Z"/><path d="M300.76 307.46 L335.88 314.81 L318.83 298.54Z"/><path d="M391.88 308.62 L400.24 325.81 L416.96 320.59Z"/><path d="M268.58 283.22 L249.19 285.62 L264.16 304.38Z"/><path d="M368.76 316.6 L400.24 325.81 L391.88 308.62Z"/><path d="M230.46 275.49 L220.29 275.35 L241.94 290.17Z"/><path d="M230.46 275.49 L241.94 290.17 L249.19 285.62Z"/><path d="M335.88 314.81 L368.76 316.6 L339.48 294.74Z"/><path d="M298.16 287.08 L300.76 307.46 L318.83 298.54Z"/><path d="M220.29 275.35 L230.46 275.49 L209.73 264.31Z"/><path d="M335.88 314.81 L339.48 294.74 L318.83 298.54Z"/><path d="M220.29 275.35 L209.73 264.31 L204.4 265.42Z"/><path d="M268.58 283.22 L300.76 307.46 L298.16 287.08Z"/><path d="M391.88 308.62 L416.96 320.59 L408.26 308.82Z"/><path d="M240.57 270.86 L230.46 275.49 L249.19 285.62Z"/><path d="M368.76 316.6 L391.88 308.62 L366.91 298.85Z"/><path d="M268.58 283.22 L240.57 270.86 L249.19 285.62Z"/><path d="M368.76 316.6 L366.91 298.85 L339.48 294.74Z"/><path d="M209.73 264.31 L187.76 257.49 L204.4 265.42Z"/><path d="M230.46 275.49 L219 261.22 L209.73 264.31Z"/><path d="M230.46 275.49 L240.57 270.86 L219 261.22Z"/><path d="M315.73 286.26 L298.16 287.08 L318.83 298.54Z"/><path d="M339.48 294.74 L315.73 286.26 L318.83 298.54Z"/><path d="M209.73 264.31 L187.76 257.49 L196.5 252.62Z"/><path d="M399.95 291.31 L391.88 308.62 L408.26 308.82Z"/><path d="M268.58 283.22 L250.07 261.82 L240.57 270.86Z"/><path d="M219 261.22 L196.5 252.62 L209.73 264.31Z"/><path d="M281.6 269 L268.58 283.22 L298.16 287.08Z"/><path d="M391.88 308.62 L378.19 288.87 L366.91 298.85Z"/><path d="M196.5 252.62 L172.16 252.09 L187.76 257.49Z"/><path d="M219 261.22 L240.57 270.86 L227.85 253.3Z"/><path d="M315.73 286.26 L339.48 294.74 L320.88 277.87Z"/><path d="M315.73 286.26 L302.5 270.43 L298.16 287.08Z"/><path d="M268.58 283.22 L265.22 263.77 L250.07 261.82Z"/><path d="M339.48 294.74 L366.91 298.85 L354.56 279.53Z"/><path d="M378.19 288.87 L391.88 308.62 L399.95 291.31Z"/><path d="M268.58 283.22 L281.6 269 L265.22 263.77Z"/><path d="M196.5 252.62 L219 261.22 L210.7 250.29Z"/><path d="M240.57 270.86 L250.07 261.82 L227.85 253.3Z"/><path d="M302.5 270.43 L281.6 269 L298.16 287.08Z"/><path d="M219 261.22 L227.85 253.3 L210.7 250.29Z"/><path d="M196.5 252.62 L172.16 252.09 L179.81 244.91Z"/><path d="M366.91 298.85 L378.19 288.87 L354.56 279.53Z"/><path d="M302.5 270.43 L315.73 286.26 L320.88 277.87Z"/><path d="M339.48 294.74 L331.68 272.67 L320.88 277.87Z"/><path d="M331.68 272.67 L339.48 294.74 L354.56 279.53Z"/><path d="M196.32 240.31 L196.5 252.62 L210.7 250.29Z"/><path d="M172.16 252.09 L168.25 242.87 L159.4 249.46Z"/><path d="M168.25 242.87 L172.16 252.09 L179.81 244.91Z"/><path d="M196.5 252.62 L196.32 240.31 L179.81 244.91Z"/><path d="M250.07 261.82 L239.96 246.94 L227.85 253.3Z"/><path d="M227.85 253.3 L212.88 241.88 L210.7 250.29Z"/><path d="M250.07 261.82 L265.22 263.77 L254.91 247.7Z"/><path d="M378.19 288.87 L399.95 291.31 L384.19 279.01Z"/><path d="M265.22 263.77 L281.6 269 L269.7 252.42Z"/><path d="M315.62 264.96 L302.5 270.43 L320.88 277.87Z"/><path d="M212.88 241.88 L196.32 240.31 L210.7 250.29Z"/><path d="M281.6 269 L302.5 270.43 L285.31 253.08Z"/><path d="M331.68 272.67 L315.62 264.96 L320.88 277.87Z"/><path d="M250.07 261.82 L254.91 247.7 L239.96 246.94Z"/><path d="M378.19 288.87 L370.57 271.99 L354.56 279.53Z"/><path d="M168.25 242.87 L179.81 244.91 L178.73 235.08Z"/><path d="M179.81 244.91 L196.32 240.31 L178.73 235.08Z"/><path d="M265.22 263.77 L269.7 252.42 L254.91 247.7Z"/><path d="M224.34 235.3 L212.88 241.88 L227.85 253.3Z"/><path d="M370.57 271.99 L378.19 288.87 L384.19 279.01Z"/><path d="M239.96 246.94 L224.34 235.3 L227.85 253.3Z"/><path d="M399.95 291.31 L392.86 274.28 L384.19 279.01Z"/><path d="M269.7 252.42 L281.6 269 L285.31 253.08Z"/><path d="M212.88 241.88 L207.36 230.18 L196.32 240.31Z"/><path d="M338.4 260.26 L331.68 272.67 L354.56 279.53Z"/><path d="M302.5 270.43 L315.62 264.96 L302.36 251.96Z"/><path d="M285.31 253.08 L302.5 270.43 L302.36 251.96Z"/><path d="M196.32 240.31 L191.45 225.62 L178.73 235.08Z"/><path d="M320.89 253.76 L315.62 264.96 L331.68 272.67Z"/><path d="M212.88 241.88 L224.34 235.3 L207.36 230.18Z"/><path d="M239.96 246.94 L254.91 247.7 L240.45 232.13Z"/><path d="M370.57 271.99 L353.8 259.27 L354.56 279.53Z"/><path d="M207.36 230.18 L191.45 225.62 L196.32 240.31Z"/><path d="M392.86 274.28 L380.67 268.27 L384.19 279.01Z"/><path d="M380.67 268.27 L370.57 271.99 L384.19 279.01Z"/><path d="M224.34 235.3 L239.96 246.94 L240.45 232.13Z"/><path d="M254.91 247.7 L269.7 252.42 L256.26 232.1Z"/><path d="M353.8 259.27 L338.4 260.26 L354.56 279.53Z"/><path d="M270.39 238.06 L269.7 252.42 L285.31 253.08Z"/><path d="M338.4 260.26 L320.89 253.76 L331.68 272.67Z"/><path d="M315.62 264.96 L320.89 253.76 L302.36 251.96Z"/><path d="M207.36 230.18 L224.34 235.3 L214.92 222.19Z"/><path d="M240.45 232.13 L254.91 247.7 L256.26 232.1Z"/><path d="M269.7 252.42 L270.39 238.06 L256.26 232.1Z"/><path d="M191.45 225.62 L207.36 230.18 L203.17 216.89Z"/><path d="M380.67 268.27 L392.86 274.28 L386.02 257.39Z"/><path d="M285.49 232.49 L285.31 253.08 L302.36 251.96Z"/><path d="M227.2 218.17 L224.34 235.3 L240.45 232.13Z"/><path d="M369.1 252.91 L370.57 271.99 L380.67 268.27Z"/><path d="M203.17 216.89 L207.36 230.18 L214.92 222.19Z"/><path d="M224.34 235.3 L227.2 218.17 L214.92 222.19Z"/><path d="M270.39 238.06 L285.31 253.08 L285.49 232.49Z"/><path d="M320.89 253.76 L338.4 260.26 L330.58 249.54Z"/><path d="M370.57 271.99 L369.1 252.91 L353.8 259.27Z"/><path d="M320.89 253.76 L305.62 235.64 L302.36 251.96Z"/><path d="M337.96 245.53 L338.4 260.26 L353.8 259.27Z"/><path d="M338.4 260.26 L337.96 245.53 L330.58 249.54Z"/><path d="M369.1 252.91 L380.67 268.27 L386.02 257.39Z"/><path d="M243.43 212.03 L240.45 232.13 L256.26 232.1Z"/><path d="M214.11 208.75 L203.17 216.89 L214.92 222.19Z"/><path d="M305.62 235.64 L285.49 232.49 L302.36 251.96Z"/><path d="M270.39 238.06 L264.76 216.59 L256.26 232.1Z"/><path d="M322.76 238.25 L320.89 253.76 L330.58 249.54Z"/><path d="M227.2 218.17 L214.11 208.75 L214.92 222.19Z"/><path d="M243.43 212.03 L227.2 218.17 L240.45 232.13Z"/><path d="M322.76 238.25 L305.62 235.64 L320.89 253.76Z"/><path d="M270.39 238.06 L285.49 232.49 L264.76 216.59Z"/><path d="M369.1 252.91 L350.42 239.68 L353.8 259.27Z"/><path d="M337.96 245.53 L322.76 238.25 L330.58 249.54Z"/><path d="M350.42 239.68 L337.96 245.53 L353.8 259.27Z"/><path d="M264.76 216.59 L243.43 212.03 L256.26 232.1Z"/><path d="M227.2 218.17 L225.77 200.07 L214.11 208.75Z"/><path d="M227.2 218.17 L243.43 212.03 L225.77 200.07Z"/><path d="M379.49 239.83 L369.1 252.91 L386.02 257.39Z"/><path d="M305.62 235.64 L293.08 220.02 L285.49 232.49Z"/><path d="M285.49 232.49 L279.75 212.33 L264.76 216.59Z"/><path d="M305.62 235.64 L322.76 238.25 L308.68 217.95Z"/><path d="M322.76 238.25 L337.96 245.53 L330.41 224.08Z"/><path d="M293.08 220.02 L279.75 212.33 L285.49 232.49Z"/><path d="M253.81 198.07 L243.43 212.03 L264.76 216.59Z"/><path d="M337.96 245.53 L350.42 239.68 L330.41 224.08Z"/><path d="M350.42 239.68 L369.1 252.91 L362.53 230.82Z"/><path d="M293.08 220.02 L305.62 235.64 L308.68 217.95Z"/><path d="M225.77 200.07 L243.43 212.03 L239.47 189.88Z"/><path d="M369.1 252.91 L379.49 239.83 L362.53 230.82Z"/><path d="M322.76 238.25 L330.41 224.08 L308.68 217.95Z"/><path d="M243.43 212.03 L253.81 198.07 L239.47 189.88Z"/><path d="M279.75 212.33 L268.79 193.53 L264.76 216.59Z"/><path d="M268.79 193.53 L253.81 198.07 L264.76 216.59Z"/><path d="M279.75 212.33 L293.08 220.02 L288.67 200.18Z"/><path d="M293.08 220.02 L308.68 217.95 L288.67 200.18Z"/><path d="M350.42 239.68 L345.44 216.99 L330.41 224.08Z"/><path d="M345.44 216.99 L350.42 239.68 L362.53 230.82Z"/><path d="M268.79 193.53 L279.75 212.33 L288.67 200.18Z"/><path d="M239.47 189.88 L253.81 198.07 L253.18 179.68Z"/><path d="M330.41 224.08 L315.68 204.9 L308.68 217.95Z"/><path d="M379.49 239.83 L372.36 219.68 L362.53 230.82Z"/><path d="M253.81 198.07 L268.79 193.53 L253.18 179.68Z"/><path d="M308.68 217.95 L302.61 197.33 L288.67 200.18Z"/><path d="M315.68 204.9 L302.61 197.33 L308.68 217.95Z"/><path d="M345.44 216.99 L328.35 201.51 L330.41 224.08Z"/><path d="M358.18 212.84 L345.44 216.99 L362.53 230.82Z"/><path d="M330.41 224.08 L328.35 201.51 L315.68 204.9Z"/><path d="M279.57 180.68 L268.79 193.53 L288.67 200.18Z"/><path d="M372.36 219.68 L358.18 212.84 L362.53 230.82Z"/><path d="M268.79 193.53 L267.01 169.38 L253.18 179.68Z"/><path d="M302.61 197.33 L292.73 181.53 L288.67 200.18Z"/><path d="M268.79 193.53 L279.57 180.68 L267.01 169.38Z"/><path d="M292.73 181.53 L279.57 180.68 L288.67 200.18Z"/><path d="M302.61 197.33 L315.68 204.9 L310.01 184.64Z"/><path d="M315.68 204.9 L328.35 201.51 L310.01 184.64Z"/><path d="M345.44 216.99 L358.18 212.84 L344.11 192.42Z"/><path d="M328.35 201.51 L345.44 216.99 L344.11 192.42Z"/><path d="M292.73 181.53 L302.61 197.33 L310.01 184.64Z"/><path d="M358.18 212.84 L372.36 219.68 L365.91 200.36Z"/><path d="M279.57 180.68 L281.44 158.65 L267.01 169.38Z"/><path d="M281.44 158.65 L279.57 180.68 L292.73 181.53Z"/><path d="M328.35 201.51 L324.54 181.18 L310.01 184.64Z"/><path d="M297.09 166.71 L292.73 181.53 L310.01 184.64Z"/><path d="M324.54 181.18 L328.35 201.51 L344.11 192.42Z"/><path d="M358.18 212.84 L353.19 184.62 L344.11 192.42Z"/><path d="M297.09 166.71 L281.44 158.65 L292.73 181.53Z"/><path d="M353.19 184.62 L358.18 212.84 L365.91 200.36Z"/><path d="M324.54 181.18 L312.01 162.54 L310.01 184.64Z"/><path d="M312.01 162.54 L297.09 166.71 L310.01 184.64Z"/><path d="M324.54 181.18 L344.11 192.42 L329.62 166.36Z"/><path d="M281.44 158.65 L297.09 166.71 L294.95 148.6Z"/><path d="M359.86 178.31 L353.19 184.62 L365.91 200.36Z"/><path d="M344.11 192.42 L353.19 184.62 L345.97 170.88Z"/><path d="M297.09 166.71 L312.01 162.54 L294.95 148.6Z"/><path d="M324.54 181.18 L329.62 166.36 L312.01 162.54Z"/><path d="M344.11 192.42 L345.97 170.88 L329.62 166.36Z"/><path d="M353.19 184.62 L359.86 178.31 L345.97 170.88Z"/><path d="M312.01 162.54 L307.53 139.23 L294.95 148.6Z"/><path d="M329.62 166.36 L320.73 148.85 L312.01 162.54Z"/><path d="M312.01 162.54 L320.73 148.85 L307.53 139.23Z"/><path d="M329.62 166.36 L345.97 170.88 L334.74 146.53Z"/><path d="M345.97 170.88 L359.86 178.31 L353.33 153.21Z"/><path d="M320.73 148.85 L329.62 166.36 L334.74 146.53Z"/><path d="M345.97 170.88 L353.33 153.21 L334.74 146.53Z"/><path d="M320.73 148.85 L320.44 129.62 L307.53 139.23Z"/><path d="M320.44 129.62 L320.73 148.85 L334.74 146.53Z"/><path d="M353.33 153.21 L341.95 132.85 L334.74 146.53Z"/><path d="M332.24 120.85 L320.44 129.62 L334.74 146.53Z"/><path d="M347.99 131.84 L341.95 132.85 L353.33 153.21Z"/><path d="M341.95 132.85 L332.24 120.85 L334.74 146.53Z"/><path d="M341.95 132.85 L347.99 131.84 L343.24 112.66Z"/><path d="M332.24 120.85 L341.95 132.85 L343.24 112.66Z"/></g>
</svg>
</body></html>
